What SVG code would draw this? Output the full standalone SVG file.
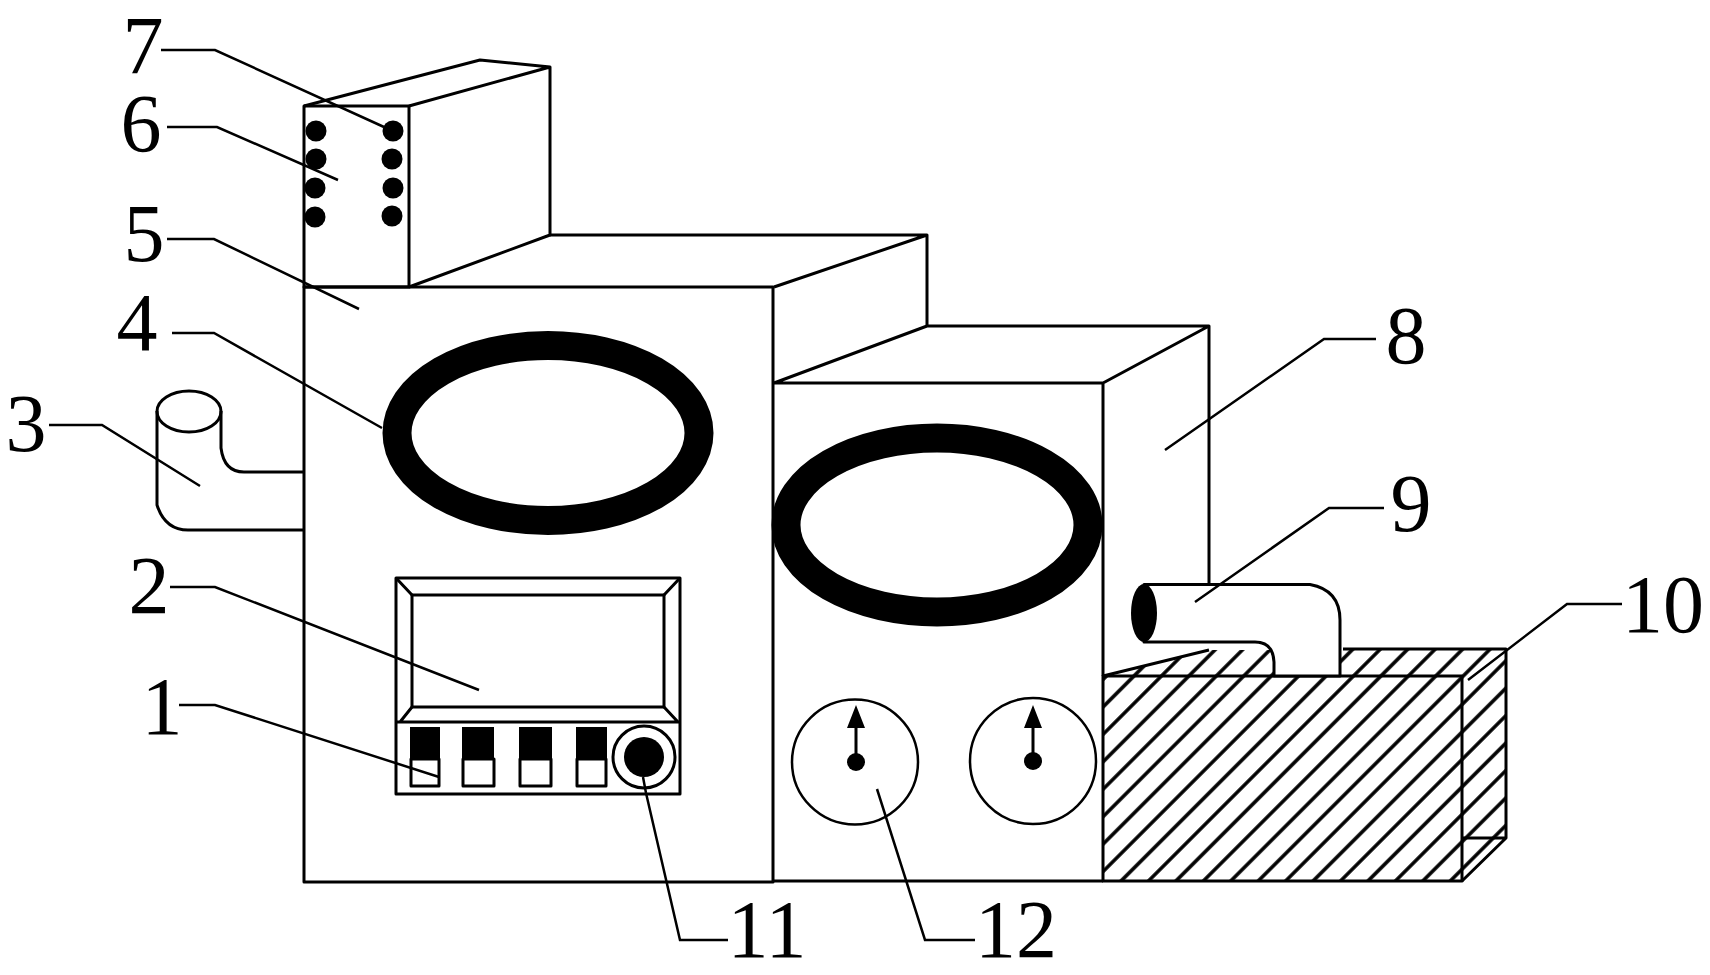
<svg xmlns="http://www.w3.org/2000/svg" width="1710" height="975" viewBox="0 0 1710 975">
<style>
.l{fill:none;stroke:#000;stroke-width:3;stroke-linejoin:round}
.w{fill:#fff;stroke:#000;stroke-width:3;stroke-linejoin:round}
.t{fill:none;stroke:#000;stroke-width:2.5}
.k{fill:#000;stroke:none}
.r{fill:none;stroke:#000;stroke-width:29}
.n{font-family:"Liberation Serif",serif;font-size:82px;fill:#000;text-anchor:middle}
</style>
<defs>
<pattern id="hatch" patternUnits="userSpaceOnUse" width="19.4" height="19.4" patternTransform="translate(1169.1 874.1) rotate(45)">
<line x1="9.7" y1="0" x2="9.7" y2="19.4" stroke="#000" stroke-width="3.5"/>
</pattern>
</defs>
<rect width="1710" height="975" fill="#fff"/>
<g id="node-10">
<path d="M1103 676L1209 650H1506V838L1462 881H1103Z" fill="url(#hatch)"/>
<path class="l" d="M1103 676L1209 650M1343 649H1506V838L1462 881M1462 838H1506"/>
<rect class="l" x="1103" y="676" width="359" height="205"/>
</g>
<g id="node-8">
<path class="l" d="M774 383H1103V676M774 383L927 326H1209V584M1103 383L1209 326M774 881H1103"/>
</g>
<g id="node-9">
<path class="w" d="M1144 584.5H1310Q1340 590 1340 620V676H1274V662Q1273 642 1255 642H1144Z" stroke-width="2.5"/>
<ellipse class="k" cx="1144" cy="613" rx="13" ry="29"/>
</g>
<g id="node-6">
<path class="l" d="M304 106L480 60L550 67V235L409 287M409 106L550 67"/>
<rect class="l" x="304" y="106" width="105" height="181"/>
<g class="k">
<ellipse cx="316" cy="131" rx="10.5" ry="10.5"/><ellipse cx="316" cy="159" rx="10.5" ry="10.5"/><ellipse cx="315" cy="188" rx="10.5" ry="10.5"/><ellipse cx="315" cy="217" rx="10.5" ry="10.5"/>
<ellipse cx="393" cy="131" rx="10.5" ry="10.5"/><ellipse cx="392" cy="159" rx="10.5" ry="10.5"/><ellipse cx="393" cy="188" rx="10.5" ry="10.5"/><ellipse cx="392" cy="216" rx="10.5" ry="10.5"/>
</g>
</g>
<g id="node-5">
<path class="l" d="M550 235H927V326M774 287L927 235"/>
<rect class="l" x="304" y="287" width="469" height="595"/>
</g>
<g id="node-3">
<path class="l" d="M221 411V448Q224 472 244 472H304M157 411V505Q165 530 188 530H304"/>
<ellipse class="l" cx="189" cy="411.5" rx="32" ry="20.5"/>
</g>
<g id="node-4"><ellipse class="r" cx="548" cy="433" rx="151" ry="87.5"/></g>
<g id="node-4b"><ellipse class="r" cx="937" cy="525" rx="151" ry="87"/></g>
<g id="node-2">
<rect class="l" x="396" y="578" width="284" height="216"/>
<rect class="l" x="412" y="595" width="252" height="112"/>
<path class="l" d="M396 722H680M396 578L412 595M680 578L664 595M412 707L400 722M664 707L678 722" stroke-width="2.5"/>
</g>
<g id="node-1">
<rect class="k" x="410" y="727" width="30" height="32"/><rect class="k" x="462" y="727" width="32" height="32"/><rect class="k" x="519" y="727" width="33" height="32"/><rect class="k" x="576" y="727" width="31" height="32"/>
<rect class="w" x="411" y="759" width="28" height="27"/><rect class="w" x="463" y="759" width="31" height="27"/><rect class="w" x="520" y="759" width="31" height="27"/><rect class="w" x="577" y="759" width="29" height="27"/>
</g>
<g id="node-11">
<ellipse class="l" cx="644" cy="757" rx="31" ry="31"/>
<ellipse class="k" cx="644" cy="757" rx="20" ry="20"/>
</g>
<g id="node-12">
<ellipse class="t" cx="855" cy="762" rx="63" ry="62.5"/>
<ellipse class="t" cx="1033" cy="761" rx="63" ry="63"/>
<path class="l" d="M856 762V725M1033 761V725"/>
<path class="k" d="M856 705L865 728H847ZM1033 705L1042 728H1024Z"/>
<ellipse class="k" cx="856" cy="762" rx="9" ry="9"/>
<ellipse class="k" cx="1033" cy="761" rx="9" ry="9"/>
</g>
<g id="connectors">
<path class="t" d="M49 425H102L200 486"/>
<path class="t" d="M172 333H214L382 428"/>
<path class="t" d="M167 239H214L359 309"/>
<path class="t" d="M167 127H217L338 180"/>
<path class="t" d="M161 50H215L384 127"/>
<path class="t" d="M170 587H215L479 690"/>
<path class="t" d="M179 705H215L439 777"/>
<path class="t" d="M643 777L646 793L680 940H728"/>
<path class="t" d="M877 789L925 940H975"/>
<path class="t" d="M1165 450L1324 339H1376"/>
<path class="t" d="M1195 602L1329 508H1384"/>
<path class="t" d="M1468 680L1567 604H1622"/>
</g>
<g id="labels" class="n">
<text x="26" y="451">3</text>
<text x="137" y="350">4</text>
<text x="144" y="261">5</text>
<text x="141" y="151">6</text>
<text x="143" y="73">7</text>
<text x="149" y="613">2</text>
<text x="162" y="734">1</text>
<text x="767" y="957">11</text>
<text x="1016" y="957">12</text>
<text x="1406" y="363">8</text>
<text x="1411" y="531">9</text>
<text x="1663" y="632">10</text>
</g>
</svg>
